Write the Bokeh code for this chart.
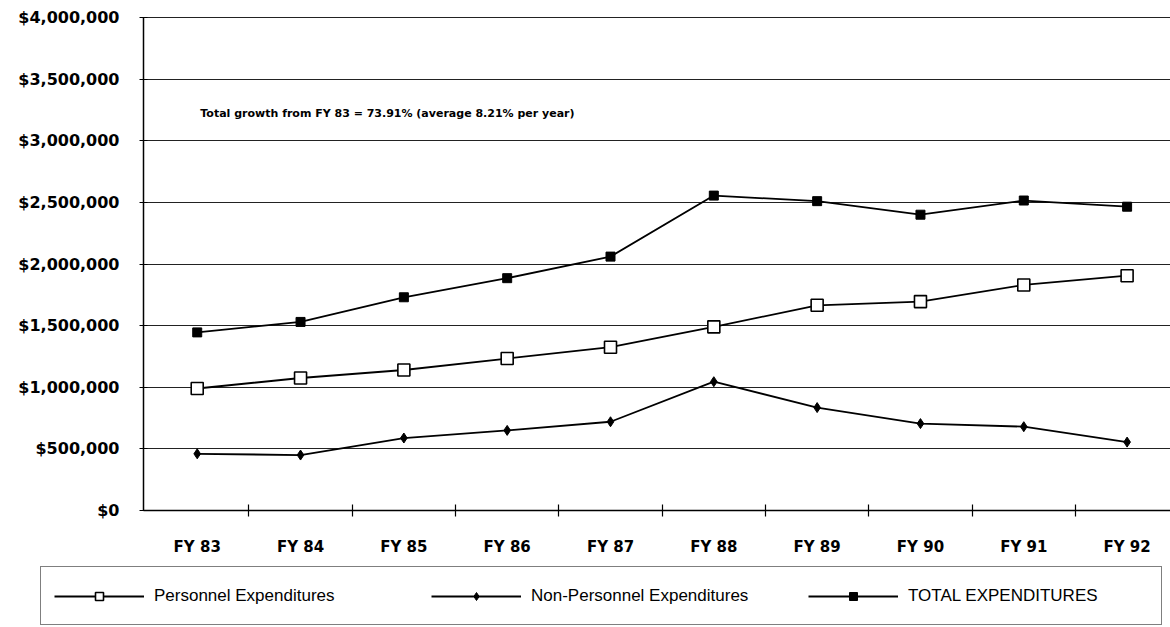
from bokeh.plotting import figure
from bokeh.models import (Range1d, LinearAxis, FixedTicker, SingleIntervalTicker,
                          NumeralTickFormatter, Legend, LegendItem, Label, Grid)
from bokeh.embed import file_html
from bokeh.resources import INLINE

years = ["FY 83", "FY 84", "FY 85", "FY 86", "FY 87", "FY 88", "FY 89", "FY 90", "FY 91", "FY 92"]
personnel = [990000, 1075000, 1140000, 1233000, 1325000, 1490000, 1665000, 1695000, 1830000, 1905000]
non_personnel = [460000, 450000, 588000, 650000, 720000, 1045000, 835000, 705000, 680000, 555000]
total = [1445000, 1530000, 1730000, 1885000, 2060000, 2555000, 2510000, 2400000, 2515000, 2465000]
note = "Total growth from FY 83 = 73.91% (average 8.21% per year)"

idx = list(range(len(years)))
Y_MAX = 4000000
X_LO, X_HI = -0.52, 9.42

# frame covers the whole canvas; axes sit at fixed data locations
W, H = 1170, 627
AX_LEFT, AX_TOP, AX_BOTTOM = 143, 17, 510
kx = (W - AX_LEFT) / (X_HI - X_LO)
ky = Y_MAX / (AX_BOTTOM - AX_TOP)
x_range = Range1d(X_LO - AX_LEFT / kx, X_HI)
y_range = Range1d(-(H - AX_BOTTOM) * ky, Y_MAX + AX_TOP * ky)

p = figure(frame_width=W, frame_height=H,
           min_border_left=0, min_border_right=0, min_border_top=0, min_border_bottom=0,
           x_range=x_range, y_range=y_range,
           output_backend="svg", toolbar_location=None, x_axis_type=None, y_axis_type=None)
p.outline_line_color = None
p.background_fill_color = "white"
p.border_fill_color = "white"

yticker = SingleIntervalTicker(interval=500000)

yax = LinearAxis(ticker=yticker, formatter=NumeralTickFormatter(format="$0,0"),
                 fixed_location=X_LO, bounds=(0, Y_MAX))
yax.axis_line_color = "black"
yax.axis_line_width = 1.5
yax.major_tick_in = 4
yax.major_tick_out = 4
yax.minor_tick_line_color = None
yax.major_label_standoff = 20
yax.major_label_text_font = "DejaVu Sans"
yax.major_label_text_font_style = "bold"
yax.major_label_text_font_size = "16px"
yax.major_label_text_color = "black"
p.add_layout(yax, "left")

xax = LinearAxis(ticker=FixedTicker(ticks=idx, minor_ticks=[i + 0.5 for i in idx[:-1]]),
                 major_label_overrides={i: y for i, y in zip(idx, years)},
                 fixed_location=0, bounds=(X_LO, X_HI))
xax.axis_line_color = "black"
xax.axis_line_width = 1.5
xax.major_tick_line_color = None
xax.major_tick_in = 0
xax.major_tick_out = 0
xax.minor_tick_in = 6
xax.minor_tick_out = 6
xax.minor_tick_line_color = "black"
xax.minor_tick_line_width = 1.2
xax.major_label_standoff = 21
xax.major_label_text_font = "DejaVu Sans"
xax.major_label_text_font_style = "bold"
xax.major_label_text_font_size = "15px"
xax.major_label_text_color = "black"
p.add_layout(xax, "below")

p.add_layout(Grid(dimension=1, ticker=yticker, bounds=(0, Y_MAX),
                  cross_bounds=(X_LO, X_HI),
                  grid_line_color="#222222", grid_line_width=1.2))

lw = 1.8
r1l = p.line(idx, personnel, line_color="black", line_width=lw)
r1m = p.scatter(idx, personnel, marker="square", size=12, fill_color="white",
                line_color="black", line_width=1.6)
r2l = p.line(idx, non_personnel, line_color="black", line_width=lw)
r2m = p.scatter(idx, non_personnel, marker="diamond", size=10, fill_color="black",
                line_color="black")
r3l = p.line(idx, total, line_color="black", line_width=lw)
r3m = p.scatter(idx, total, marker="square", size=9, fill_color="black",
                line_color="black")

p.add_layout(Label(x=0.03, y=3220000, text=note, text_font="DejaVu Sans",
                   text_font_style="bold", text_font_size="11px",
                   text_baseline="middle", text_color="black"))

legend = Legend(items=[
    LegendItem(label="Personnel Expenditures", renderers=[r1l, r1m]),
    LegendItem(label="Non-Personnel Expenditures", renderers=[r2l, r2m]),
    LegendItem(label="TOTAL EXPENDITURES", renderers=[r3l, r3m]),
], orientation="horizontal", location=(40, 2))
legend.glyph_width = 90
legend.glyph_height = 20
legend.label_standoff = 10
legend.label_width = 240
legend.label_height = 31
legend.padding = 13
legend.spacing = 37
legend.margin = 0
legend.label_text_font = "Liberation Sans"
legend.label_text_font_size = "17px"
legend.label_text_color = "black"
legend.border_line_color = "black"
legend.border_line_width = 1.5
legend.background_fill_color = "white"
legend.background_fill_alpha = 1
p.add_layout(legend, "center")

open("out.html", "w").write(file_html(p, INLINE))
